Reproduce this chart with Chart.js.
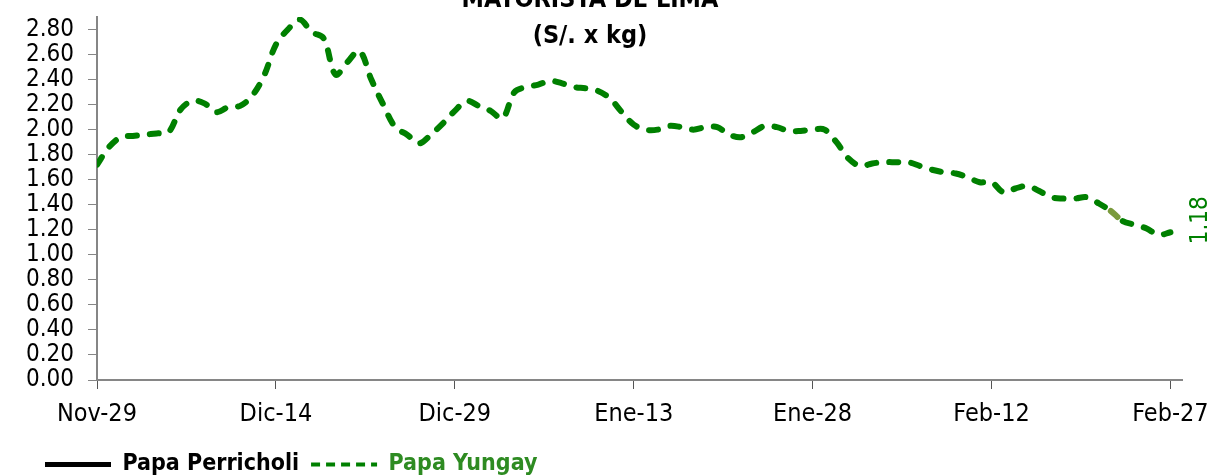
<!DOCTYPE html>
<html>
<head>
<meta charset="utf-8">
<script src="https://cdn.jsdelivr.net/npm/chart.js@4.4.1/dist/chart.umd.min.js"></script>
<style>
  body { margin: 0; background: #fff; }
  canvas { display: block; }
</style>
</head>
<body>
<canvas id="priceChart" width="1219" height="475"></canvas>
<script>
const FONT = "'DejaVu Sans Condensed', 'Liberation Sans Narrow', sans-serif";

// x tick labels, one every 15 days starting Nov-29
const tickLabels = ['Nov-29', 'Dic-14', 'Dic-29', 'Ene-13', 'Ene-28', 'Feb-12', 'Feb-27'];

// y tick labels
const yTicks = [0, 0.2, 0.4, 0.6, 0.8, 1.0, 1.2, 1.4, 1.6, 1.8, 2.0, 2.2, 2.4, 2.6, 2.8];

// Papa Yungay, S/. x kg, one value per day from Nov-29 to Feb-27
const yungay = [
  1.72, 1.86, 1.94, 1.95, 1.96, 1.97, 1.98, 2.16, 2.23, 2.21,
  2.14, 2.18, 2.19, 2.27, 2.43, 2.68, 2.80, 2.88, 2.78, 2.73,
  2.44, 2.54, 2.63, 2.40, 2.20, 2.02, 1.96, 1.89, 1.96, 2.05,
  2.15, 2.23, 2.19, 2.15, 2.09, 2.30, 2.34, 2.36, 2.39, 2.37,
  2.34, 2.33, 2.31, 2.25, 2.14, 2.04, 2.00, 2.00, 2.03, 2.02,
  2.00, 2.02, 2.02, 1.96, 1.94, 1.98, 2.03, 2.02, 1.99, 1.99,
  2.00, 2.00, 1.90, 1.77, 1.71, 1.73, 1.74, 1.74, 1.74, 1.71,
  1.68, 1.66, 1.65, 1.62, 1.58, 1.58, 1.50, 1.53, 1.55, 1.51,
  1.46, 1.45, 1.45, 1.46, 1.41, 1.35, 1.27, 1.24, 1.21, 1.16,
  1.18
];

// Papa Perricholi has no values in this period (legend only)
const perricholi = [];

const toPoints = arr => arr.map((v, i) => ({ x: i, y: v }));

// title drawn at the top, partly cut off as in the original
const titlePlugin = {
  id: 'titleText',
  afterDraw(chart) {
    const c = chart.ctx;
    c.save();
    c.fillStyle = '#000';
    c.textAlign = 'center';
    c.textBaseline = 'alphabetic';
    c.font = 'bold 25px ' + FONT;
    c.fillText('MAYORISTA DE LIMA', 590, 7);
    c.fillText('(S/. x kg)', 590, 43);
    c.restore();
  }
};

// rotated label on the last point of Papa Yungay
const lastLabelPlugin = {
  id: 'lastLabel',
  afterDatasetsDraw(chart) {
    const meta = chart.getDatasetMeta(1);
    const pt = meta.data[meta.data.length - 1];
    if (!pt) return;
    const c = chart.ctx;
    c.save();
    c.translate(pt.x + 30, pt.y - 12);
    c.rotate(-Math.PI / 2);
    c.fillStyle = '#008000';
    c.font = '24px ' + FONT;
    c.textAlign = 'center';
    c.textBaseline = 'middle';
    c.fillText(yungay[yungay.length - 1].toFixed(2), 0, 0);
    c.restore();
  }
};

// push the legend a bit to the right, like the original
const legendShift = {
  id: 'legendShift',
  afterLayout(chart) {
    chart.legend.left += 33;
    chart.legend.right += 33;
  }
};

new Chart(document.getElementById('priceChart'), {
  type: 'line',
  data: {
    datasets: [
      {
        label: 'Papa Perricholi',
        data: toPoints(perricholi),
        borderColor: '#000000',
        backgroundColor: '#000000',
        borderWidth: 4,
        pointRadius: 0,
      },
      {
        label: 'Papa Yungay',
        data: toPoints(yungay),
        borderColor: '#008000',
        backgroundColor: '#008000',
        borderWidth: 6,
        borderDash: [9, 13],
        borderCapStyle: 'round',
        tension: 0.35,
        pointRadius: 0,
        segment: {
          borderColor: ctx => ctx.p0DataIndex === 85 ? '#7a9a3c' : undefined,
        },
      },
    ],
  },
  options: {
    responsive: false,
    animation: false,
    layout: { padding: { top: 17, left: 0, right: 30, bottom: -11 } },
    plugins: {
      tooltip: { enabled: false },
      legend: {
        position: 'bottom',
        align: 'start',
        labels: {
          usePointStyle: true,
          pointStyle: 'line',
          pointStyleWidth: 66,
          padding: 12,
          font: { family: FONT, size: 23, weight: 'bold' },
          generateLabels(chart) {
            return chart.data.datasets.map((ds, i) => ({
              text: ds.label,
              datasetIndex: i,
              strokeStyle: ds.borderColor,
              fillStyle: ds.borderColor,
              fontColor: i === 0 ? '#000000' : '#2e8b22',
              lineWidth: i === 0 ? 5 : 4,
              lineDash: i === 0 ? [] : [9, 6],
              pointStyle: 'line',
              hidden: false,
            }));
          },
        },
      },
    },
    scales: {
      x: {
        type: 'linear',
        min: 0,
        max: 91,
        afterBuildTicks: axis => {
          axis.ticks = tickLabels.map((_, i) => ({ value: i * 15 }));
        },
        afterFit: scale => { scale.height = 61; },
        ticks: {
          autoSkip: false,
          maxRotation: 0,
          padding: 10,
          color: '#000',
          font: { family: FONT, size: 25 },
          callback: v => tickLabels[Math.round(v / 15)],
        },
        grid: {
          drawOnChartArea: false,
          drawTicks: true,
          tickLength: 9,
          color: '#555',
        },
        border: { color: '#868686', width: 2 },
      },
      y: {
        min: 0,
        max: 2.9,
        afterBuildTicks: axis => {
          axis.ticks = yTicks.map(v => ({ value: v }));
        },
        afterFit: scale => {
          scale.width = 97;
          scale.paddingTop = 0;
          scale.paddingBottom = 0;
        },
        ticks: {
          autoSkip: false,
          padding: 14,
          color: '#000',
          font: { family: FONT, size: 24, lineHeight: 1 },
          callback: v => v.toFixed(2),
        },
        grid: {
          drawOnChartArea: false,
          drawTicks: true,
          tickLength: 9,
          color: '#868686',
        },
        border: { color: '#868686', width: 2 },
      },
    },
  },
  plugins: [titlePlugin, lastLabelPlugin, legendShift],
});
</script>
</body>
</html>
